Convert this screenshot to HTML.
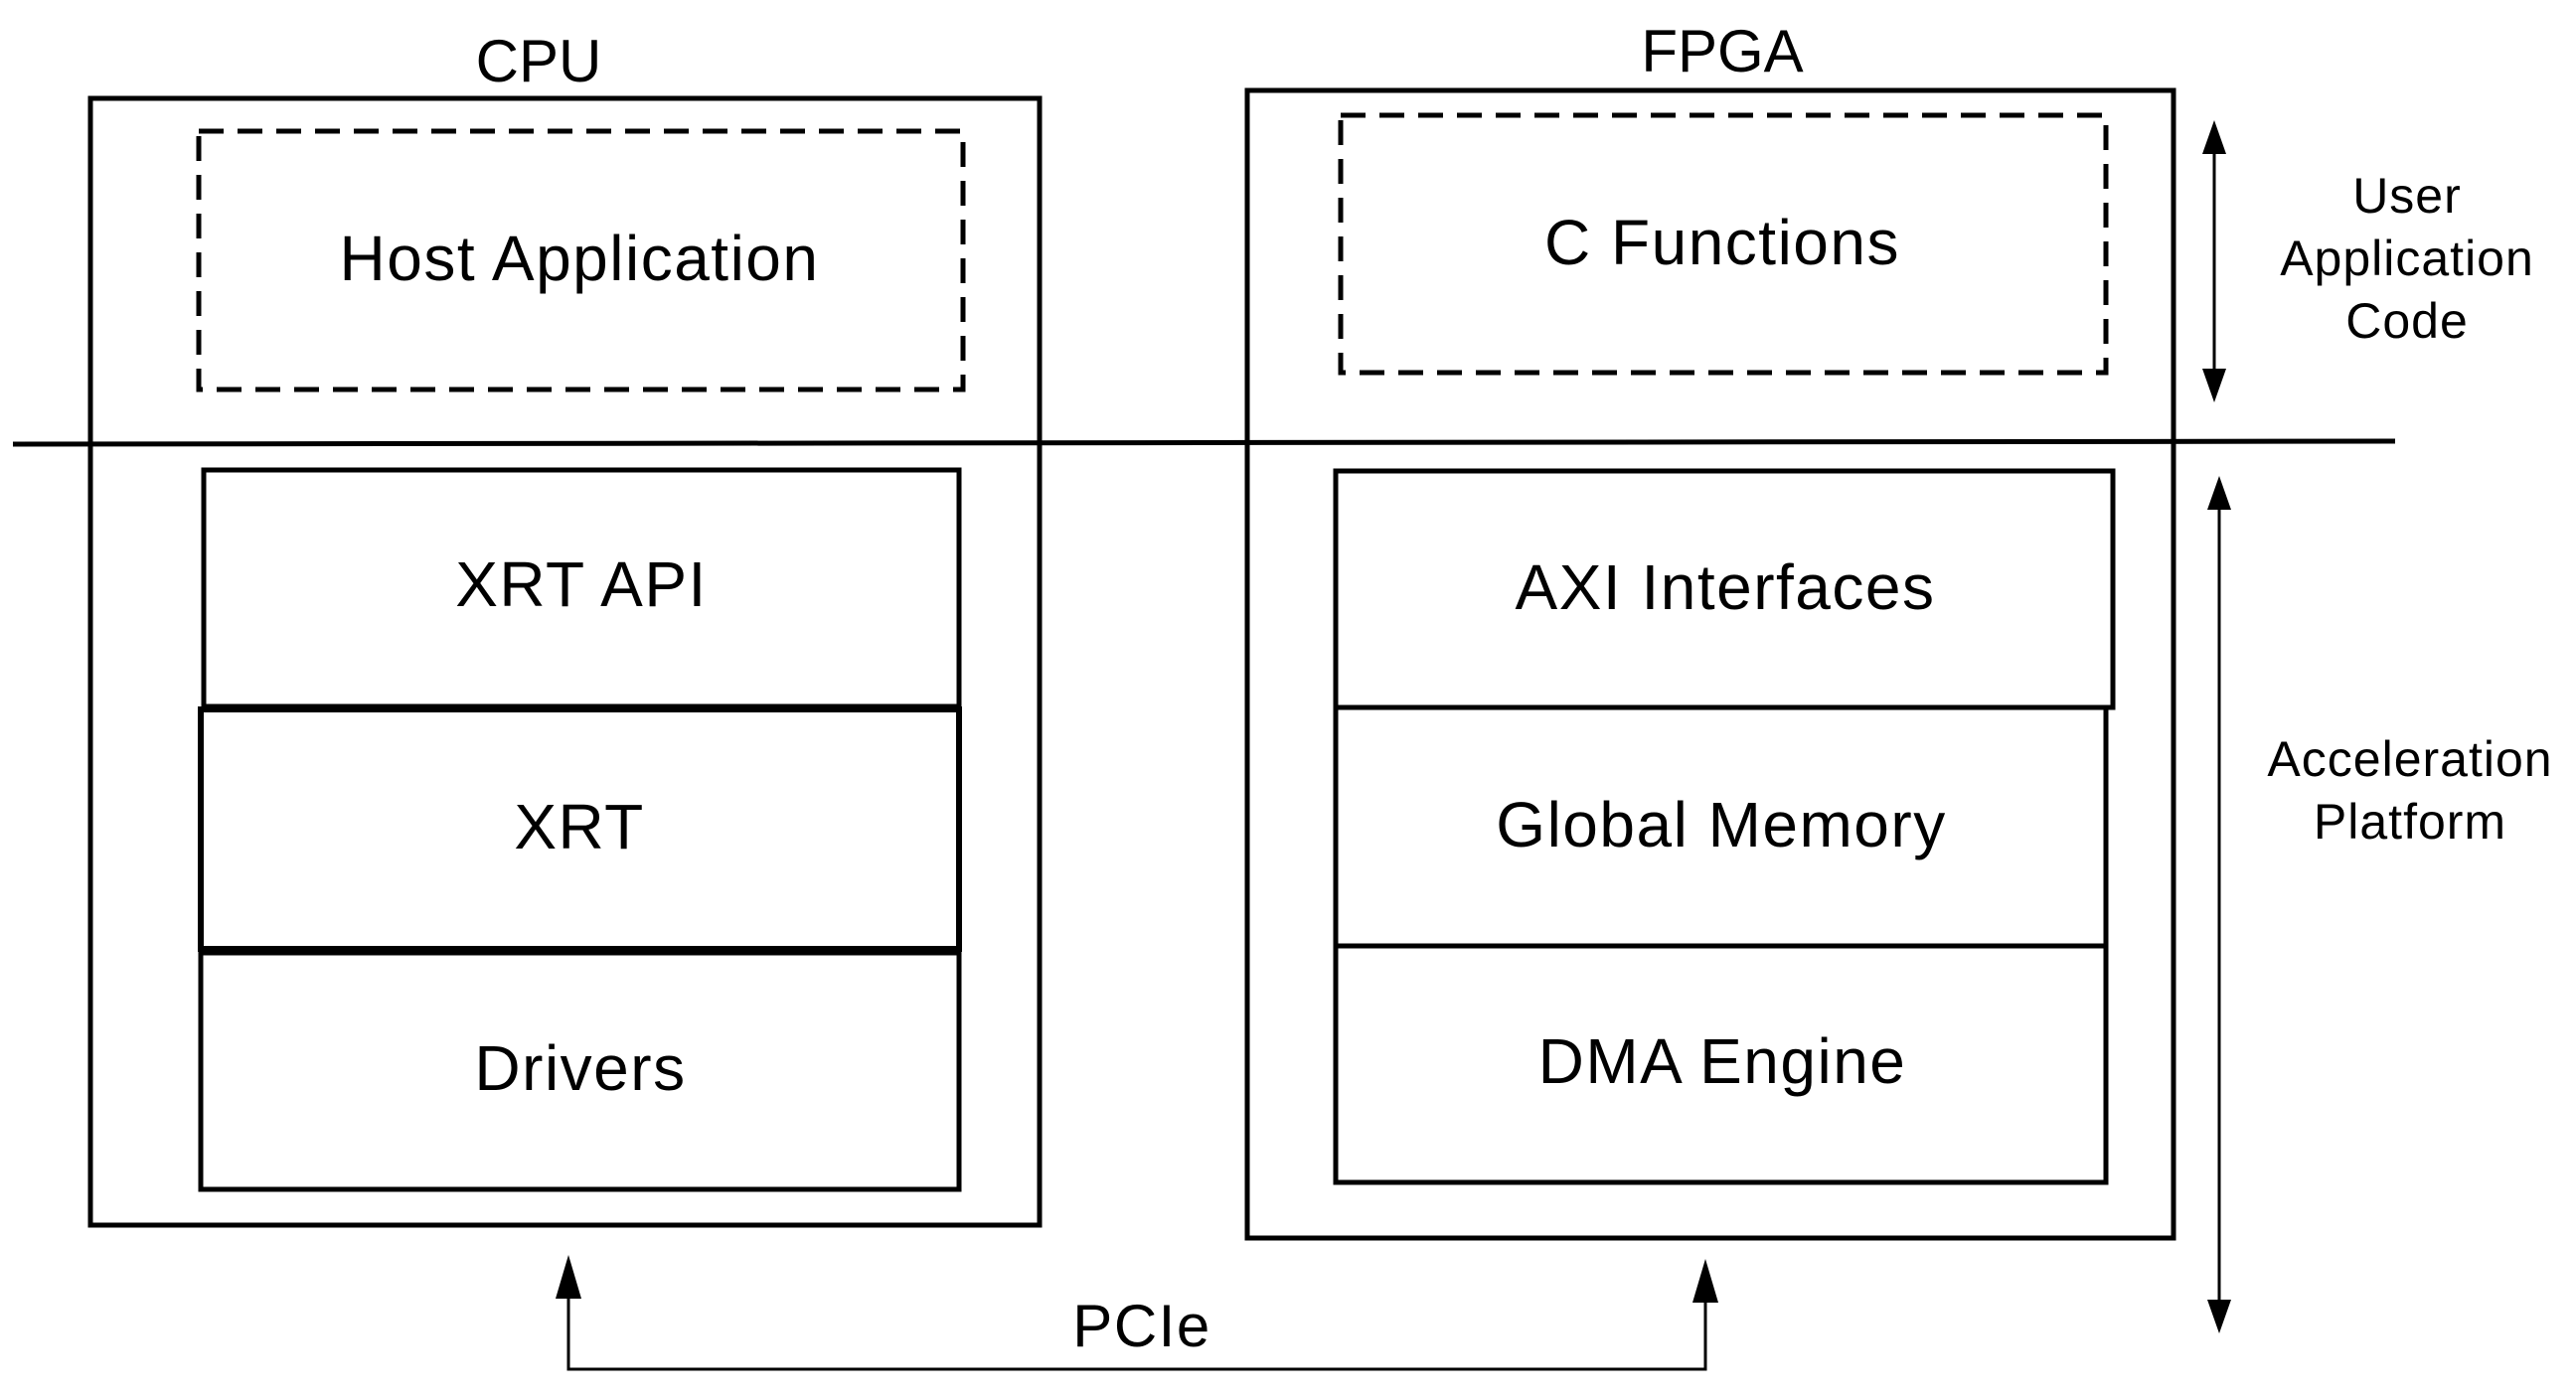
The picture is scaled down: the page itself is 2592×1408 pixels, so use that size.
<!DOCTYPE html>
<html><head><meta charset="utf-8"><style>
html,body{margin:0;padding:0;background:#fff;}
svg{display:block;}
text{font-family:"Liberation Sans",sans-serif;fill:#000;}
</style></head><body>
<svg width="2592" height="1408" viewBox="0 0 2592 1408" xmlns="http://www.w3.org/2000/svg">
<g fill="none" stroke="#000" stroke-width="5">
<rect x="91" y="99" width="955" height="1134"/>
<rect x="1255" y="91" width="932" height="1155"/>
<rect x="200" y="132" width="769" height="260" stroke-dasharray="25,14" stroke-width="5"/>
<rect x="1349" y="116" width="770" height="259" stroke-dasharray="25,14" stroke-width="5"/>
<rect x="205" y="473" width="760" height="238"/>
<rect x="202" y="714" width="763" height="241" stroke-width="6"/>
<rect x="202" y="959" width="763" height="238"/>
<rect x="1344" y="474" width="782" height="238"/>
<rect x="1344" y="712" width="775" height="240"/>
<rect x="1344" y="952" width="775" height="238"/>
</g>
<line x1="13" y1="447" x2="2410" y2="444" stroke="#000" stroke-width="5"/>
<g stroke="#000" stroke-width="3" fill="none">
<line x1="2228" y1="150" x2="2228" y2="378"/>
<line x1="2233" y1="510" x2="2233" y2="1312"/>
<polyline points="572,1300 572,1378 1716,1378 1716,1300"/>
</g>
<g fill="#000">
<polygon points="2228,121 2216,155 2240,155"/>
<polygon points="2228,405 2216,371 2240,371"/>
<polygon points="2233,479 2221,513 2245,513"/>
<polygon points="2233,1342 2221,1308 2245,1308"/>
<polygon points="572,1263 559,1307 585,1307"/>
<polygon points="1716,1267 1703,1311 1729,1311"/>
</g>
<g text-anchor="middle" font-size="60">
<text x="542" y="82">CPU</text>
<text x="1733" y="72">FPGA</text>
</g>
<g text-anchor="middle" font-size="64" letter-spacing="1.5">
<text x="583" y="282">Host Application</text>
<text x="1733" y="266">C Functions</text>
<text x="585" y="610">XRT API</text>
<text x="583" y="854">XRT</text>
<text x="584" y="1097">Drivers</text>
<text x="1736" y="613">AXI Interfaces</text>
<text x="1732" y="852">Global Memory</text>
<text x="1733" y="1090">DMA Engine</text>
<text x="1149" y="1355" font-size="60">PCIe</text>
</g>
<g text-anchor="middle" font-size="50" letter-spacing="1">
<text x="2422" y="214">User</text>
<text x="2422" y="277">Application</text>
<text x="2422" y="340">Code</text>
<text x="2425" y="781">Acceleration</text>
<text x="2425" y="844">Platform</text>
</g>
</svg>
</body></html>
